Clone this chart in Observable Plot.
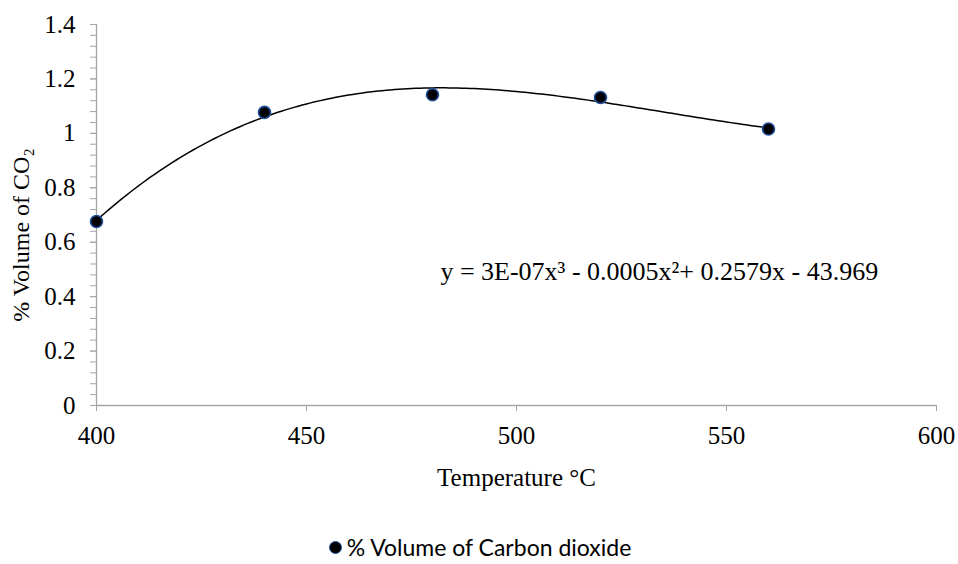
<!DOCTYPE html>
<html>
<head>
<meta charset="utf-8">
<script src="https://cdn.jsdelivr.net/npm/d3@7"></script>
<script src="https://cdn.jsdelivr.net/npm/@observablehq/plot@0.6"></script>
<style>
  body { margin: 0; background: #ffffff; }
  #chart svg { display: block; }
  #chart svg text { font-family: "Liberation Serif", "Times New Roman", serif !important; }
  #legend {
    width: 958px; height: 44px; display: flex; align-items: center; justify-content: center;
    padding-left: 2px; padding-top: 10px; box-sizing: border-box;
    font-family: Lato, "Open Sans", sans-serif; font-size: 23px; color: #000;
  }
  #legend .dot {
    width: 11px; height: 11px; border-radius: 50%; background: #000;
    border: 1.5px solid #1f4e9a; margin-right: 5px;
  }
</style>
</head>
<body>
<div id="chart"></div>
<div id="legend"></div>
<script>
// ---- data ----
const temperature = [400, 440, 480, 520, 560];
const co2Volume = [0.676, 1.077, 1.142, 1.132, 1.016];
const xTicks = [400, 450, 500, 550, 600];
const yTicks = [0, 0.2, 0.4, 0.6, 0.8, 1, 1.2, 1.4];
const seriesName = "% Volume of Carbon dioxide";
const equationText = "y = 3E-07x³ - 0.0005x²+ 0.2579x - 43.969";
const xTitle = "Temperature °C";
const yTitle = "% Volume of CO₂";

const points = temperature.map((t, i) => ({t, v: co2Volume[i]}));

// cubic least-squares trendline (like the spreadsheet's polynomial trendline)
function polyFit(xs, ys, deg) {
  const c = d3.mean(xs), s = 40;
  const n = deg + 1;
  const A = Array.from({length: n}, () => new Array(n + 1).fill(0));
  xs.forEach((x, k) => {
    const u = (x - c) / s;
    for (let i = 0; i < n; i++) {
      for (let j = 0; j < n; j++) A[i][j] += Math.pow(u, i + j);
      A[i][n] += ys[k] * Math.pow(u, i);
    }
  });
  for (let i = 0; i < n; i++) {
    let p = i;
    for (let r = i + 1; r < n; r++) if (Math.abs(A[r][i]) > Math.abs(A[p][i])) p = r;
    [A[i], A[p]] = [A[p], A[i]];
    for (let r = 0; r < n; r++) {
      if (r === i) continue;
      const f = A[r][i] / A[i][i];
      for (let k = i; k <= n; k++) A[r][k] -= f * A[i][k];
    }
  }
  const coef = A.map((row, i) => row[n] / row[i]);
  return x => { const u = (x - c) / s; return coef.reduce((acc, a, i) => acc + a * Math.pow(u, i), 0); };
}
const fit = polyFit(temperature, co2Volume, 3);
const trend = d3.range(d3.min(temperature), d3.max(temperature) + 0.5, 1).map(t => ({t, v: fit(t)}));
const minorTicks = d3.range(0, 1.4001, 0.04);

const axisGray = "#a6a6a6";
const serif = "Liberation Serif, Times New Roman, serif";

const chart = Plot.plot({
  width: 958,
  height: 520,
  marginLeft: 96,
  marginRight: 22,
  marginTop: 24,
  marginBottom: 115,
  style: {fontFamily: serif, fontSize: "25px", color: "#000", background: "#fff"},
  x: {domain: [400, 600]},
  y: {domain: [0, 1.4]},
  marks: [
    Plot.axisY({ticks: minorTicks, tickSize: 6, stroke: axisGray, tickFormat: () => "", label: null}),
    Plot.axisY({ticks: yTicks, tickSize: 6, tickPadding: 15, stroke: axisGray, tickFormat: d => d3.format("~g")(d), label: null, fontSize: 25, fontFamily: serif}),
    Plot.axisX({ticks: xTicks, tickSize: 6, tickPadding: 15, stroke: axisGray, label: xTitle, labelAnchor: "center", labelArrow: "none", labelOffset: 80, fontSize: 25, fontFamily: serif}),
    Plot.ruleX([400], {stroke: axisGray, strokeWidth: 1.3}),
    Plot.ruleY([0], {stroke: axisGray, strokeWidth: 1.3}),
    Plot.text([yTitle], {frameAnchor: "left", rotate: -90, dx: -75, dy: 20, textAnchor: "middle", lineAnchor: "middle", fontSize: 24, fontFamily: serif}),
    Plot.line(trend, {x: "t", y: "v", stroke: "#000", strokeWidth: 1.5, curve: "linear"}),
    Plot.dot(points, {x: "t", y: "v", r: 6, fill: "#000", stroke: "#1f4e9a", strokeWidth: 1.6}),
    Plot.text([equationText], {x: () => 534, y: () => 0.49, textAnchor: "middle", lineAnchor: "middle", fontSize: 26, fontFamily: serif})
  ]
});
document.getElementById("chart").appendChild(chart);

const legend = document.getElementById("legend");
legend.innerHTML = `<span class="dot"></span><span>${seriesName}</span>`;
</script>
</body>
</html>
